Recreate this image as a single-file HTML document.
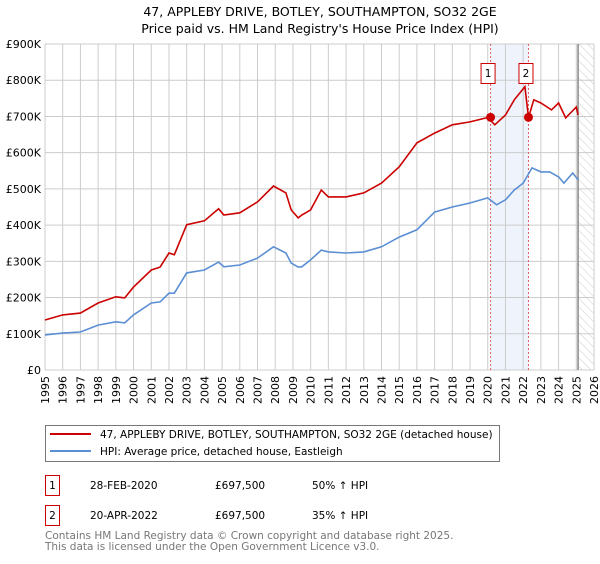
<!DOCTYPE html>
<html><head><meta charset="utf-8"><style>
body{margin:0;background:#fff;width:600px;height:560px;overflow:hidden;font-family:"DejaVu Sans","Liberation Sans",sans-serif;}
svg text{font-family:"DejaVu Sans","Liberation Sans",sans-serif;}
</style></head><body>
<svg id="chart" width="600" height="560" viewBox="0 0 600 560" xmlns="http://www.w3.org/2000/svg">
<defs><pattern id="hatch" width="6" height="6" patternUnits="userSpaceOnUse" patternTransform="rotate(-45)"><line x1="0" y1="0" x2="0" y2="6" stroke="#ccc" stroke-width="1"/></pattern></defs>
<text x="320" y="16" text-anchor="middle" font-size="12.5">47, APPLEBY DRIVE, BOTLEY, SOUTHAMPTON, SO32 2GE</text>
<text x="320" y="33" text-anchor="middle" font-size="12.5">Price paid vs. HM Land Registry's House Price Index (HPI)</text>
<g id="grid"></g><g id="marks"></g><g id="axes"></g>
<rect x="45.5" y="425.5" width="454" height="36" fill="#fff" stroke="#777"/>
<line x1="50" y1="434" x2="91" y2="434" stroke="#cc0000" stroke-width="2"/>
<text x="100" y="438" font-size="10.5">47, APPLEBY DRIVE, BOTLEY, SOUTHAMPTON, SO32 2GE (detached house)</text>
<line x1="50" y1="451" x2="91" y2="451" stroke="#5b8fd4" stroke-width="2"/>
<text x="100" y="455" font-size="10.5">HPI: Average price, detached house, Eastleigh</text>
<g font-size="10.5">
<rect x="45.5" y="475.5" width="14" height="20" fill="#fff" stroke="#cc0000"/><text x="52.5" y="489" text-anchor="middle">1</text>
<text x="90" y="489">28-FEB-2020</text><text x="215" y="489">£697,500</text><text x="312" y="489">50% ↑ HPI</text></g>
<g font-size="10.5">
<rect x="45.5" y="505.5" width="14" height="20" fill="#fff" stroke="#cc0000"/><text x="52.5" y="519" text-anchor="middle">2</text>
<text x="90" y="519">20-APR-2022</text><text x="215" y="519">£697,500</text><text x="312" y="519">35% ↑ HPI</text></g>
<text x="45" y="539" font-size="10.5" fill="#777">Contains HM Land Registry data © Crown copyright and database right 2025.</text>
<text x="45" y="550" font-size="10.5" fill="#777">This data is licensed under the Open Government Licence v3.0.</text>
</svg>
<script>
const yearTicks=[1995,1996,1997,1998,1999,2000,2001,2002,2003,2004,2005,2006,2007,2008,2009,2010,2011,2012,2013,2014,2015,2016,2017,2018,2019,2020,2021,2022,2023,2024,2025,2026];
const valueTicks=[0,100,200,300,400,500,600,700,800,900];
const valueLabels=["£0","£100K","£200K","£300K","£400K","£500K","£600K","£700K","£800K","£900K"];
const hpiYears=[1995,1996,1997,1998,1999,1999.5,2000,2001,2001.5,2002,2002.3,2003,2004,2004.8,2005.1,2006,2007,2007.9,2008.6,2008.9,2009.3,2009.5,2010,2010.6,2011,2012,2013,2014,2015,2016,2017,2018,2019,2020,2020.5,2021,2021.5,2022,2022.5,2023,2023.5,2024,2024.3,2024.8,2025.1];
const hpiValues=[97,102,105,124,133,130,152,185,188,212,212,268,276,298,285,290,309,340,323,295,284,285,304,331,326,323,326,340,367,387,436,450,461,475,456,470,497,516,558,547,547,533,516,544,525];
const redYears=[1995,1996,1997,1998,1999,1999.5,2000,2001,2001.5,2002,2002.3,2003,2004,2004.8,2005.1,2006,2007,2007.9,2008.6,2008.9,2009.3,2009.5,2010,2010.6,2011,2012,2013,2014,2015,2016,2017,2018,2019,2020,2020.4,2021,2021.5,2022.1,2022.3,2022.6,2023,2023.6,2024,2024.4,2025,2025.1];
const redValues=[138,152,157,185,202,199,229,276,284,323,318,401,412,445,428,434,464,508,489,442,420,428,442,497,478,478,489,516,561,627,654,677,685,697,677,704,746,782,697,746,737,718,737,696,726,704];
const saleYears=[2020.16,2022.3];
const saleValues=[697.5,697.5];
const saleLabels=["1","2"];
const NS="http://www.w3.org/2000/svg";
const X0=45,X1=594,Y0=370,Y1=44;
function xs(y){return X0+(y-1995)/(2026-1995)*(X1-X0);}
function ys(v){return Y0-v/900*(Y0-Y1);}
function mk(tag,attrs,parent){const e=document.createElementNS(NS,tag);for(const k in attrs)e.setAttribute(k,attrs[k]);parent.appendChild(e);return e;}
const grid=document.getElementById('grid'),marks=document.getElementById('marks'),axes=document.getElementById('axes');
const shade=mk('rect',{x:xs(saleYears[0]),y:Y1,width:xs(saleYears[1])-xs(saleYears[0]),height:Y0-Y1,fill:'#eef3fc'},grid);


const hat=mk('rect',{x:xs(2025.1),y:Y1,width:X1-xs(2025.1),height:Y0-Y1,fill:'url(#hatch)'},grid);


yearTicks.forEach(y=>{mk('line',{x1:xs(y),y1:Y1,x2:xs(y),y2:Y0,stroke:'#ccc'},grid);
 const t=mk('text',{x:0,y:0,'font-size':11,'text-anchor':'end',transform:`translate(${xs(y)+4},${Y0+6}) rotate(-90)`},axes);t.textContent=y;
 
 });
valueTicks.forEach((v,i)=>{mk('line',{x1:X0,y1:ys(v),x2:X1,y2:ys(v),stroke:'#ccc'},grid);
 const t=mk('text',{x:X0-4,y:ys(v)+4,'font-size':11,'text-anchor':'end'},axes);t.textContent=valueLabels[i];
 
 });
mk('line',{x1:xs(2025.1),y1:Y1,x2:xs(2025.1),y2:Y0,stroke:'#888','stroke-width':1.5},grid);
saleYears.forEach(y=>mk('line',{x1:xs(y),y1:Y1,x2:xs(y),y2:Y0,stroke:'#e06060','stroke-dasharray':'2,2'},grid));
function path(xsArr,vals,color,name){const d=xsArr.map((y,i)=>(i?'L':'M')+xs(y).toFixed(1)+','+ys(vals[i]).toFixed(1)).join('');
 const p=mk('path',{d:d,fill:'none',stroke:color,'stroke-width':1.6},marks);
 
 }
path(hpiYears,hpiValues,'#5b8fd4','hpi-line');
path(redYears,redValues,'#cc0000','property-price-line');
saleYears.forEach((y,i)=>{const c=mk('circle',{cx:xs(y),cy:ys(saleValues[i]),r:4.5,fill:'#cc0000'},marks);
 
 
 const b=mk('rect',{x:xs(y)-9.5,y:63.5,width:14,height:20,fill:'#fff',stroke:'#cc0000'},marks);
 
 
 const t=mk('text',{x:xs(y)-2.5,y:77,'font-size':10.5,'text-anchor':'middle'},marks);t.textContent=saleLabels[i];
 
 });
</script>
</body></html>
